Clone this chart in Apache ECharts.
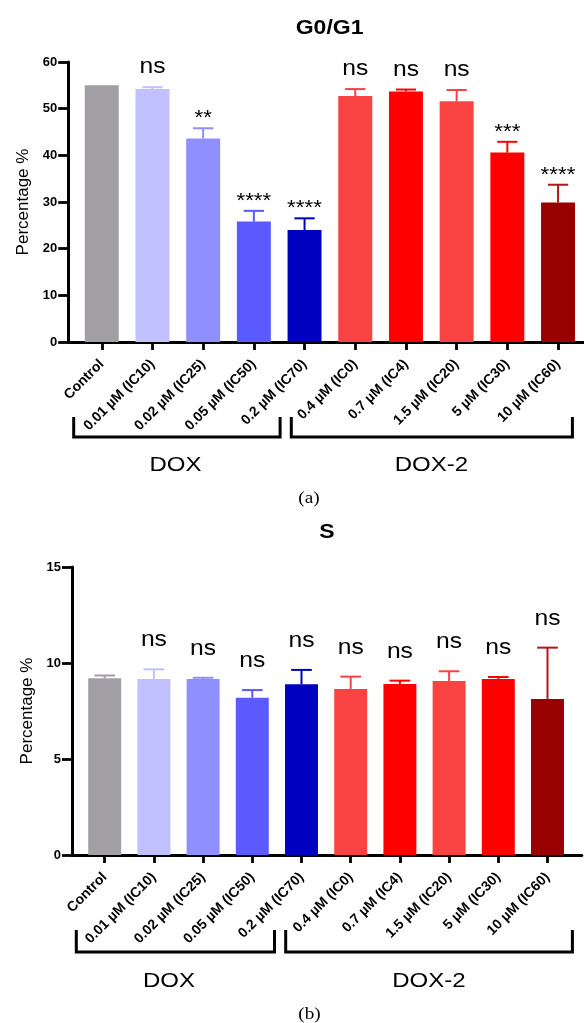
<!DOCTYPE html>
<html><head><meta charset="utf-8">
<script src="https://cdn.jsdelivr.net/npm/echarts@6/dist/echarts.min.js"></script>
<style>html,body{margin:0;padding:0;background:#fff}#c{width:584px;height:1023px}</style>
</head><body><div id="c"></div>
<script>
// ---------- data ----------
const categories = ['Control', '0.01 µM (IC10)', '0.02 µM (IC25)', '0.05 µM (IC50)', '0.2 µM (IC70)',
  '0.4 µM (IC0)', '0.7 µM (IC4)', '1.5 µM (IC20)', '5 µM (IC30)', '10 µM (IC60)'];
const g0g1Mean = [55.0, 54.2, 43.6, 25.8, 24.0, 52.7, 53.7, 51.6, 40.6, 29.9];
const g0g1Err  = [0.0, 0.4, 2.2, 2.3, 2.5, 1.5, 0.4, 2.4, 2.3, 3.8];
const g0g1Sig  = ['', 'ns', '**', '****', '****', 'ns', 'ns', 'ns', '***', '****'];
const sMean = [9.20, 9.17, 9.17, 8.19, 8.89, 8.65, 8.91, 9.06, 9.17, 8.13];
const sErr  = [0.15, 0.50, 0.06, 0.40, 0.75, 0.64, 0.17, 0.51, 0.10, 2.67];
const sSig  = ['', 'ns', 'ns', 'ns', 'ns', 'ns', 'ns', 'ns', 'ns', 'ns'];
const g0g1Ticks = [0, 60, 10];
const sTicks = [0, 15, 5];

// ---------- styling ----------
const FONT = '"Liberation Sans", Arial, sans-serif';
const SERIF = '"Liberation Serif", "DejaVu Serif", serif';
const palette = ['#A19FA4', '#C0C0FF', '#8F8FFF', '#5A5AFF', '#0000C0', '#F94343', '#FF0000', '#F94343', '#FF0000', '#990000'];
const errPalette = ['#A19FA4', '#C0C0FF', '#8F8FFF', '#5A5AFF', '#0000C0', '#F94343', '#FF0000', '#F94343', '#FF0000', '#B01818'];
const STRETCH = 1.12;

const chart = echarts.init(document.getElementById('c'), null, {renderer: 'canvas'});

function mainX(gi) {
  return {
    gridIndex: gi, type: 'category', data: categories,
    axisLine: {show: false},
    axisTick: {show: true, alignWithLabel: true, length: 8, lineStyle: {color: '#000', width: 2.8}},
    axisLabel: {interval: 0, rotate: 45, fontFamily: FONT, fontWeight: 'bold', fontSize: 14, color: '#000', margin: 20},
    splitLine: {show: false}
  };
}
function mainY(gi, t, off) {
  return {
    gridIndex: gi, type: 'value', min: t[0], max: t[1], interval: t[2], offset: off,
    axisLine: {show: true, lineStyle: {color: '#000', width: 3}},
    axisTick: {show: true, length: 10, lineStyle: {color: '#000', width: 2.8}},
    axisLabel: {fontFamily: FONT, fontWeight: 'bold', fontSize: 13, color: '#000', margin: 11},
    splitLine: {show: false},
    name: 'Percentage %', nameLocation: 'middle', nameGap: 33,
    nameTextStyle: {fontFamily: FONT, fontSize: 17, color: '#000'}
  };
}
function lineX(gi) {
  return {gridIndex: gi, type: 'value', min: 0, max: 1,
    axisLine: {show: true, onZero: false, lineStyle: {color: '#000', width: 3}},
    axisTick: {show: false}, axisLabel: {show: false}, splitLine: {show: false}};
}
function lineY(gi) {
  return {gridIndex: gi, type: 'value', show: false, min: 0, max: 1, splitLine: {show: false}};
}

function barSeries(idx, mean) {
  return {
    type: 'bar', xAxisIndex: idx, yAxisIndex: idx, barWidth: '67%',
    data: mean.map((v, i) => ({value: v, itemStyle: {color: palette[i]}})),
    silent: true, animation: false
  };
}
function errSeries(idx, mean, err, sig, capFrac, nsOff, starOff) {
  return {
    type: 'custom', xAxisIndex: idx, yAxisIndex: idx, silent: true, animation: false, z: 5,
    data: mean.map((v, i) => [i, v, err[i]]),
    renderItem: function (params, api) {
      const i = api.value(0), m = api.value(1), e = api.value(2);
      const s = sig[i];
      const base = api.coord([i, m]);
      const top = api.coord([i, m + e]);
      const band = api.size([1, 0])[0];
      const half = band * capFrac / 2;
      const col = errPalette[i];
      const children = [];
      if (e > 0) {
        children.push({type: 'line', shape: {x1: base[0], y1: base[1], x2: top[0], y2: top[1]},
          style: {stroke: col, lineWidth: 2}});
        children.push({type: 'line', shape: {x1: top[0] - half, y1: top[1], x2: top[0] + half, y2: top[1]},
          style: {stroke: col, lineWidth: 2}});
      }
      if (s) {
        const isNs = s === 'ns';
        children.push({type: 'text', x: top[0], y: top[1] - (isNs ? nsOff : starOff), scaleX: STRETCH,
          style: {text: s, x: 0, y: 0, align: 'center', verticalAlign: 'middle',
            fontFamily: FONT, fontSize: isNs ? 22 : 20, fill: '#000'}});
      }
      return {type: 'group', children: children};
    }
  };
}

function bracket(x1, x2, yTop, yBot) {
  return {type: 'polyline', shape: {points: [[x1, yTop], [x1, yBot], [x2, yBot], [x2, yTop]]},
    style: {stroke: '#000', lineWidth: 3, fill: null}, silent: true};
}
function label(text, x, y, size, family, weight, sx) {
  return {type: 'text', x: x, y: y, scaleX: sx || STRETCH, silent: true,
    style: {text: text, x: 0, y: 0, align: 'center', verticalAlign: 'middle', fontSize: size,
      fontFamily: family, fontWeight: weight || 'normal', fill: '#000'}};
}

chart.setOption({
  animation: false,
  backgroundColor: '#fff',
  grid: [
    {left: 76.4, top: 62, width: 507, height: 280},
    {left: 68.2, top: 62, width: 515.8, height: 280},
    {left: 80.1, top: 567, width: 492, height: 288},
    {left: 72, top: 567, width: 509.8, height: 288}
  ],
  xAxis: [mainX(0), lineX(1), mainX(2), lineX(3)],
  yAxis: [mainY(0, g0g1Ticks, 8.2), lineY(1), mainY(2, sTicks, 8.1), lineY(3)],
  series: [
    barSeries(0, g0g1Mean),
    errSeries(0, g0g1Mean, g0g1Err, g0g1Sig, 0.4, 20, 9.5),
    barSeries(2, sMean),
    errSeries(2, sMean, sErr, sSig, 0.42, 29, 12)
  ],
  graphic: [
    label('G0/G1', 329.6, 28, 20, FONT, 'bold', 1.15),
    label('S', 327, 532, 20, FONT, 'bold', 1.15),
    bracket(73.7, 280.1, 417, 437),
    bracket(291.3, 572.4, 417, 437),
    label('DOX', 175.4, 465, 20, FONT, 'normal', 1.2),
    label('DOX-2', 431.3, 465, 20, FONT, 'normal', 1.2),
    label('(a)', 309, 499, 16, SERIF, 'normal', 1.2),
    bracket(76.3, 274.5, 930, 952),
    bracket(285.7, 572.4, 930, 952),
    label('DOX', 169, 981, 20, FONT, 'normal', 1.2),
    label('DOX-2', 428.8, 981, 20, FONT, 'normal', 1.2),
    label('(b)', 309.5, 1015, 16, SERIF, 'normal', 1.2)
  ]
});
</script>
</body></html>
